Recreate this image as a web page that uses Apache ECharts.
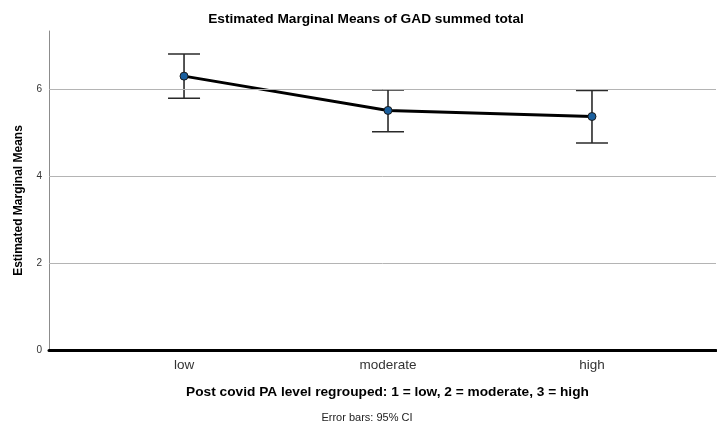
<!DOCTYPE html>
<html>
<head>
<meta charset="utf-8">
<script src="https://cdn.jsdelivr.net/npm/echarts@6/dist/echarts.min.js"></script>
<style>
  html, body { margin: 0; padding: 0; background: #fff; }
  #chart { width: 717px; height: 428px; }
</style>
</head>
<body>
<div id="chart"></div>
<script>
// PA level groups and estimated marginal means of GAD total
const categories = ['low', 'moderate', 'high'];
const means = [6.31, 5.52, 5.38];
const ciLower = [5.80, 5.03, 4.77];
const ciUpper = [6.82, 5.99, 5.98];
const yTicks = [0, 2, 4, 6];

const FONT = '"Liberation Sans", Arial, sans-serif';

const lineData = means.map((m, i) => [i + 1, m]);
const errData = means.map((m, i) => [i + 1, ciLower[i], ciUpper[i]]);

const chart = echarts.init(document.getElementById('chart'), null, { renderer: 'canvas' });

chart.setOption({
  animation: false,
  backgroundColor: '#ffffff',
  textStyle: { fontFamily: FONT },
  grid: { left: 49, right: 1, top: 31, bottom: 78, containLabel: false },
  xAxis: {
    type: 'value',
    min: 0.338,
    max: 3.608,
    name: 'Post covid PA level regrouped: 1 = low, 2 = moderate, 3 = high',
    nameLocation: 'middle',
    nameGap: 35,
    nameTextStyle: { fontFamily: FONT, fontSize: 13.7, fontWeight: 'bold', color: '#000', padding: [0, 0, 0, 10] },
    axisLine: { show: true, onZero: false, lineStyle: { color: '#000', width: 3 } },
    axisTick: { show: false },
    splitLine: { show: false },
    axisLabel: {
      customValues: [1, 2, 3],
      formatter: v => categories[Math.round(v) - 1] || '',
      fontFamily: FONT, fontSize: 13.5, color: '#333', margin: 8
    }
  },
  yAxis: {
    type: 'value',
    min: 0,
    max: 7.35,
    name: 'Estimated Marginal Means',
    nameLocation: 'middle',
    nameGap: 24,
    nameTextStyle: { fontFamily: FONT, fontSize: 12, fontWeight: 'bold', color: '#000', padding: [0, 20, 0, 0] },
    axisLine: { show: true, lineStyle: { color: '#8c8c8c', width: 1 } },
    axisTick: { show: false },
    axisLabel: {
      customValues: yTicks,
      fontFamily: FONT, fontSize: 10, color: '#333', margin: 7
    },
    splitLine: { show: false }
  },
  series: [
    {
      // horizontal reference lines at the labelled ticks
      type: 'line',
      data: [],
      markLine: {
        silent: true,
        symbol: 'none',
        label: { show: false },
        lineStyle: { type: 'solid', color: '#b4b4b4', width: 1 },
        data: yTicks.filter(t => t > 0).map(t => ({ yAxis: t }))
      }
    },
    {
      type: 'custom',
      z: 3,
      data: errData,
      renderItem: function (params, api) {
        const x = api.value(0);
        const lo = api.coord([x, api.value(1)]);
        const hi = api.coord([x, api.value(2)]);
        const hw = 16;
        const style = { stroke: '#2a2a2a', lineWidth: 1.6 };
        return {
          type: 'group',
          children: [
            { type: 'line', shape: { x1: lo[0], y1: lo[1], x2: hi[0], y2: hi[1] }, style },
            { type: 'line', shape: { x1: hi[0] - hw, y1: hi[1], x2: hi[0] + hw, y2: hi[1] }, style },
            { type: 'line', shape: { x1: lo[0] - hw, y1: lo[1], x2: lo[0] + hw, y2: lo[1] }, style }
          ]
        };
      }
    },
    {
      type: 'line',
      z: 4,
      data: lineData,
      lineStyle: { color: '#000', width: 3 },
      symbol: 'circle',
      symbolSize: 8,
      itemStyle: { color: '#1a5f9e', borderColor: '#1a1a1a', borderWidth: 1 }
    }
  ],
  graphic: [
    {
      type: 'text',
      x: 366, y: 19,
      style: {
        text: 'Estimated Marginal Means of GAD summed total',
        fontFamily: FONT, fontSize: 13.7, fontWeight: 'bold', fill: '#000',
        align: 'center', verticalAlign: 'middle'
      }
    },
    {
      type: 'text',
      x: 367, y: 418,
      style: {
        text: 'Error bars: 95% CI',
        fontFamily: FONT, fontSize: 11, fill: '#222',
        align: 'center', verticalAlign: 'middle'
      }
    }
  ]
});
</script>
</body>
</html>
